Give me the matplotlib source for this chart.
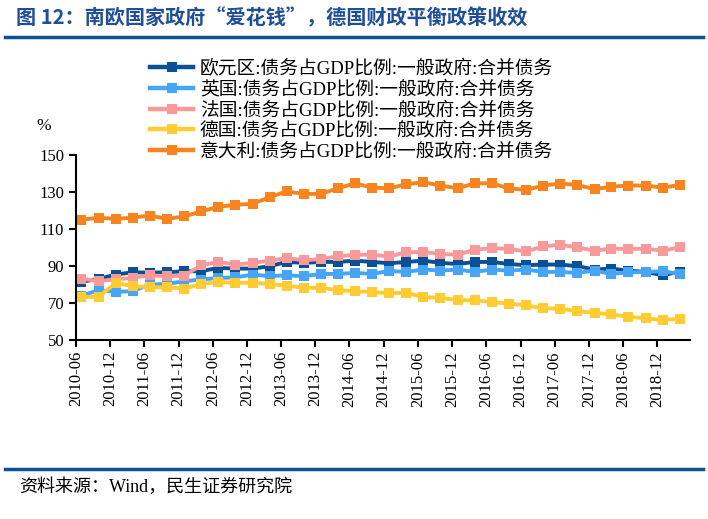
import matplotlib
matplotlib.use("Agg")
import matplotlib.pyplot as plt
import pandas as pd
from matplotlib.lines import Line2D

plt.rcParams['font.family'] = ['Liberation Serif', 'Noto Sans CJK SC', 'DejaVu Sans']

dates = pd.date_range("2010-06-30", "2019-03-31", freq="QE")
tick_dates = pd.date_range("2010-06-01", "2018-12-01", freq="6MS")
tick_labels = [d.strftime("%Y-%m") for d in tick_dates]

euro = [81.5, 83.0, 85.4, 86.6, 86.4, 86.6, 87.2, 87.2, 89.0, 88.6,
        88.6, 89.9, 92.2, 91.7, 92.2, 92.2, 92.9, 92.2, 91.5, 92.2,
        92.9, 91.7, 91.1, 92.2, 92.2, 91.1, 90.4, 90.8, 90.8, 89.9,
        88.1, 88.6, 87.5, 86.8, 85.0, 87.0]
uk = [74.0, 76.9, 76.0, 76.4, 80.0, 80.3, 81.8, 82.7, 83.6, 83.8,
      85.4, 84.5, 85.0, 84.5, 85.7, 85.7, 86.3, 85.7, 87.3, 86.8,
      88.1, 87.5, 88.1, 86.8, 88.1, 87.5, 88.1, 86.8, 86.8, 86.3,
      87.5, 85.7, 86.6, 86.8, 87.2, 85.7]
france = [83.2, 81.8, 82.8, 83.6, 85.0, 84.5, 84.8, 90.4, 92.2, 90.8,
          91.7, 92.9, 94.3, 93.1, 93.8, 95.2, 96.1, 96.1, 95.2, 97.4,
          97.6, 96.5, 96.1, 98.8, 99.7, 99.2, 97.9, 100.6, 101.5, 100.1,
          98.3, 99.4, 99.2, 99.4, 98.3, 100.1]
germany = [73.3, 73.3, 80.9, 79.1, 78.5, 78.5, 77.8, 80.3, 81.4, 80.9,
           80.9, 80.3, 79.4, 78.2, 78.2, 76.9, 76.4, 76.0, 75.3, 75.5,
           73.2, 72.8, 71.5, 71.5, 70.5, 69.7, 68.7, 67.2, 66.9, 65.6,
           64.7, 63.8, 62.6, 61.7, 60.8, 61.5]
italy = [115.0, 116.1, 115.5, 116.1, 117.3, 115.5, 116.8, 119.5, 122.0, 123.1,
         123.6, 127.2, 130.3, 129.0, 129.0, 132.0, 134.7, 132.4, 132.0, 134.2,
         135.3, 133.5, 132.0, 134.7, 134.7, 132.0, 131.1, 133.5, 134.6, 133.8,
         131.5, 132.9, 133.5, 133.5, 132.4, 133.8]

series = [
    ("欧元区:债务占GDP比例:一般政府:合并债务", euro, "#0B4F95"),
    ("英国:债务占GDP比例:一般政府:合并债务", uk, "#47A5F5"),
    ("法国:债务占GDP比例:一般政府:合并债务", france, "#F99A9A"),
    ("德国:债务占GDP比例:一般政府:合并债务", germany, "#FFCC33"),
    ("意大利:债务占GDP比例:一般政府:合并债务", italy, "#F8841F"),
]

fig = plt.figure(figsize=(7.08, 5.19), dpi=100)
ax = fig.add_axes([0.1073, 0.3449, 0.8673, 0.3564])

handles = []
for name, vals, col in series:
    ax.plot(dates, vals, color=col, lw=2.8, marker="s", ms=7.5,
            markeredgewidth=0, solid_joinstyle="round")
    handles.append(Line2D([0], [0], color=col, lw=3.2, marker="s", ms=7,
                          markeredgewidth=0))

ax.set_ylim(50, 150)
ax.set_yticks(range(50, 151, 20))
ax.set_xlim(pd.Timestamp("2010-06-01"), pd.Timestamp("2019-05-25"))
ax.set_xticks(tick_dates)
ax.set_xticklabels(tick_labels, rotation=90)
for s in ["top", "right"]:
    ax.spines[s].set_visible(False)
for s in ["left", "bottom"]:
    ax.spines[s].set_linewidth(1.5)
ax.tick_params(axis="both", direction="out", length=5, width=1.5,
               labelsize=12, colors="black")
ax.tick_params(axis="x", pad=3)

fig.text(0.061, 0.758, "%", fontsize=12.5, ha="center", va="center")

leg = fig.legend(handles, [s[0] for s in series], loc="upper left",
                 bbox_to_anchor=(0.212, 0.885), frameon=False,
                 fontsize=13.5, handlelength=2.3, handletextpad=0.35,
                 labelspacing=0.155, borderpad=0, borderaxespad=0)

fig.text(0.022, 0.965, "图 12：南欧国家政府“爱花钱”，德国财政平衡政策收效",
         fontsize=14.5, fontweight="bold", color="#1F4F97",
         family=["Noto Sans CJK SC", "DejaVu Sans"], va="center", ha="left")
fig.add_artist(Line2D([0.007, 0.993], [0.929, 0.929], color="#0B4F95", lw=2.5))
fig.add_artist(Line2D([0.007, 0.993], [0.097, 0.097], color="#0B4F95", lw=2.5))
fig.text(0.027, 0.062, "资料来源：Wind，民生证券研究院", fontsize=13,
         va="center", ha="left")

fig.savefig("out.png", dpi=100)
